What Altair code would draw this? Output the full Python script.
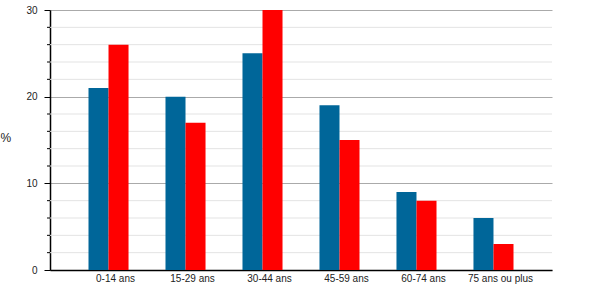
import altair as alt
import pandas as pd

categories = ["0-14 ans", "15-29 ans", "30-44 ans", "45-59 ans", "60-74 ans", "75 ans ou plus"]
series = ["Série 1", "Série 2"]
values_1 = [21, 20, 25, 19, 9, 6]
values_2 = [26, 17, 30, 15, 8, 3]
major_ticks = [0, 10, 20, 30]
minor_ticks = [2, 4, 6, 8, 12, 14, 16, 18, 22, 24, 26, 28]
colors = ["#006699", "#ff0000"]

rows = []
for c, a, b in zip(categories, values_1, values_2):
    rows.append({"cat": c, "series": series[0], "value": a})
    rows.append({"cat": c, "series": series[1], "value": b})
df = pd.DataFrame(rows)
minor_df = pd.DataFrame({"value": minor_ticks})

FONT = "Liberation Sans"
yscale = alt.Scale(domain=[0, 30], nice=False)
yaxis = alt.Axis(
    values=major_ticks, title="%", titleAngle=0, titleFont=FONT, titleFontSize=12,
    titleFontWeight="normal", titleColor="#222222", titleX=-50, titleY=127,
    titleAlign="left", titleBaseline="middle",
    labelFontSize=10, labelFont=FONT, labelColor="#222222", labelPadding=7,
    tickSize=6, tickColor="#000000", domainColor="#000000", domainWidth=1.5,
    grid=True, gridColor="#aaaaaa", gridWidth=1,
)
yenc = alt.Y("value:Q", scale=yscale, axis=yaxis)

minor_grid = alt.Chart(minor_df).mark_rule(color="#e3e3e3", strokeWidth=1).encode(y=yenc)
minor_tick = alt.Chart(minor_df).mark_rule(color="#000000", strokeWidth=1).encode(
    y=yenc,
    x=alt.value(-3),
    x2=alt.value(0),
)

bars = alt.Chart(df).mark_bar().encode(
    x=alt.X(
        "cat:N",
        sort=categories,
        scale=alt.Scale(paddingInner=0.48, paddingOuter=0.5),
        axis=alt.Axis(
            title=None, ticks=False, labelAngle=0, labelFontSize=10, labelFont=FONT,
            labelColor="#222222", labelPadding=3, labelOffset=7, domainColor="#000000",
            domainWidth=1.5, grid=False,
        ),
    ),
    xOffset=alt.XOffset("series:N", sort=series, scale=alt.Scale(paddingInner=0, paddingOuter=0)),
    y=yenc,
    color=alt.Color("series:N", scale=alt.Scale(domain=series, range=colors), legend=None),
)

chart = alt.layer(minor_grid, bars, minor_tick).properties(
    width=502, height=260,
    autosize=alt.AutoSizeParams(type="none"),
    padding={"left": 50, "top": 10, "right": 48, "bottom": 30},
).configure_view(stroke=None)

chart.save("out.html", embed_options={"renderer": "svg", "actions": False})
